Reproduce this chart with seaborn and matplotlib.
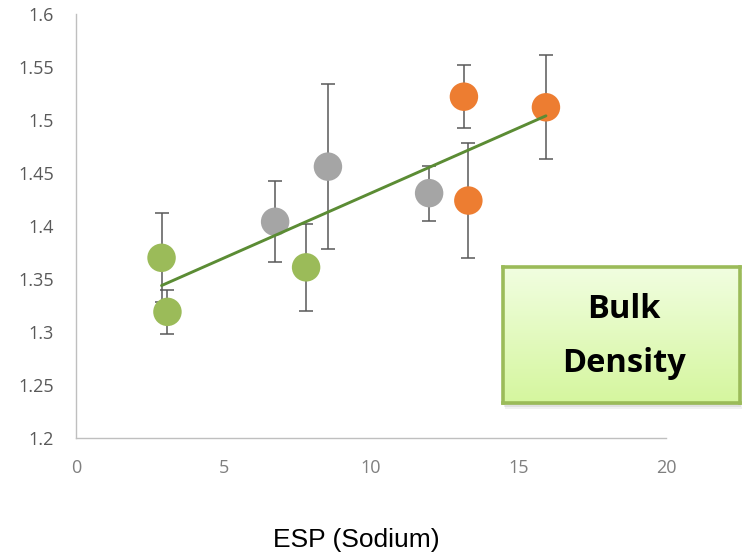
import numpy as np
import pandas as pd
import matplotlib
matplotlib.use("Agg")
import matplotlib.pyplot as plt
from matplotlib.patches import Rectangle
import seaborn as sns

# ESP (%) and bulk density (g/cm3) with standard-error bars, grouped by sodicity class
esp = [2.9, 3.1, 7.8, 6.75, 8.54, 11.97, 13.15, 13.3, 15.93]
bulk_density = [1.370, 1.319, 1.361, 1.404, 1.456, 1.431, 1.522, 1.424, 1.512]
bd_error = [0.042, 0.021, 0.041, 0.038, 0.078, 0.026, 0.030, 0.054, 0.049]
group = ["low", "low", "low", "mid", "mid", "mid", "high", "high", "high"]

group_colors = {"low": "#9bbb59", "mid": "#a5a5a5", "high": "#ed7d31"}
x_ticks = [0, 5, 10, 15, 20]
y_ticks = [1.2, 1.25, 1.3, 1.35, 1.4, 1.45, 1.5, 1.55, 1.6]
y_tick_labels = ["1.2", "1.25", "1.3", "1.35", "1.4", "1.45", "1.5", "1.55", "1.6"]

df = pd.DataFrame({"esp": esp, "bd": bulk_density, "err": bd_error, "group": group})

sns.set_style("white")
plt.rcParams["font.family"] = ["Open Sans", "DejaVu Sans"]

W, H = 742, 560
fig = plt.figure(figsize=(W / 100, H / 100), dpi=100)
ax = fig.add_axes([76 / W, 1 - 438 / H, (666 - 76) / W, (438 - 14) / H])
ax.set_zorder(0)
ax.patch.set_alpha(0)

# error bars beneath the markers
ax.errorbar(df["esp"], df["bd"], yerr=df["err"], fmt="none",
            ecolor="#595959", elinewidth=1.1, capsize=5, capthick=1.1, zorder=1)

sns.scatterplot(data=df, x="esp", y="bd", hue="group", palette=group_colors,
                s=420, edgecolor="none", legend=False, ax=ax, zorder=2)

# linear trend over the observed ESP range
sns.regplot(data=df, x="esp", y="bd", scatter=False, ci=None, truncate=True,
            line_kws={"color": "#5b8c34", "linewidth": 2.1, "zorder": 3}, ax=ax)

ax.set_xlim(0, 20)
ax.set_ylim(1.2, 1.6)
ax.set_xticks(x_ticks)
ax.set_yticks(y_ticks)
ax.set_yticklabels(y_tick_labels)
ax.tick_params(axis="both", length=0)
ax.tick_params(axis="y", pad=16, labelsize=13, labelcolor="#595959")
ax.tick_params(axis="x", pad=15, labelsize=13, labelcolor="#7f7f7f")
for side in ["top", "right"]:
    ax.spines[side].set_visible(False)
for side in ["left", "bottom"]:
    ax.spines[side].set_color("#bfbfbf")
    ax.spines[side].set_linewidth(1.0)
ax.set_xlabel("")
ax.set_ylabel("")

fig.text(356 / W, 1 - 540 / H, "ESP (Sodium)", ha="center", va="center",
         fontsize=19, color="#000000", family=["Liberation Sans", "DejaVu Sans"])

# title panel with soft shadow and green gradient fill
bx0, by0, bx1, by1 = 503, 267, 740, 403
for k, a in enumerate([0.10, 0.14, 0.18]):
    off = 6 - 2 * k
    fig.patches.append(Rectangle(((bx0 + off * 0.3) / W, 1 - (by1 + off) / H),
                                 (bx1 - bx0) / W, (by1 - by0) / H,
                                 transform=fig.transFigure, facecolor="#7f7f7f",
                                 edgecolor="none", alpha=a, zorder=1))
bax = fig.add_axes([bx0 / W, 1 - by1 / H, (bx1 - bx0) / W, (by1 - by0) / H])
bax.set_zorder(5)
top = np.array([0.945, 0.995, 0.880])
bottom = np.array([0.835, 0.965, 0.620])
t = np.linspace(0, 1, 256)[:, None]
grad = (top[None, :] * (1 - t) + bottom[None, :] * t)[:, None, :]
bax.imshow(grad, aspect="auto", extent=[0, 1, 0, 1], origin="upper")
bax.set_xlim(0, 1)
bax.set_ylim(0, 1)
bax.set_xticks([])
bax.set_yticks([])
for sp in bax.spines.values():
    sp.set_color("#9bbb59")
    sp.set_linewidth(2.6)
bax.text(0.51, 1 - (309 - by0) / (by1 - by0), "Bulk", ha="center", va="center",
         fontsize=23.5, fontweight="bold", color="#000000", transform=bax.transAxes)
bax.text(0.51, 1 - (364 - by0) / (by1 - by0), "Density", ha="center", va="center",
         fontsize=23.5, fontweight="bold", color="#000000", transform=bax.transAxes)

fig.savefig("out.png", dpi=100)
